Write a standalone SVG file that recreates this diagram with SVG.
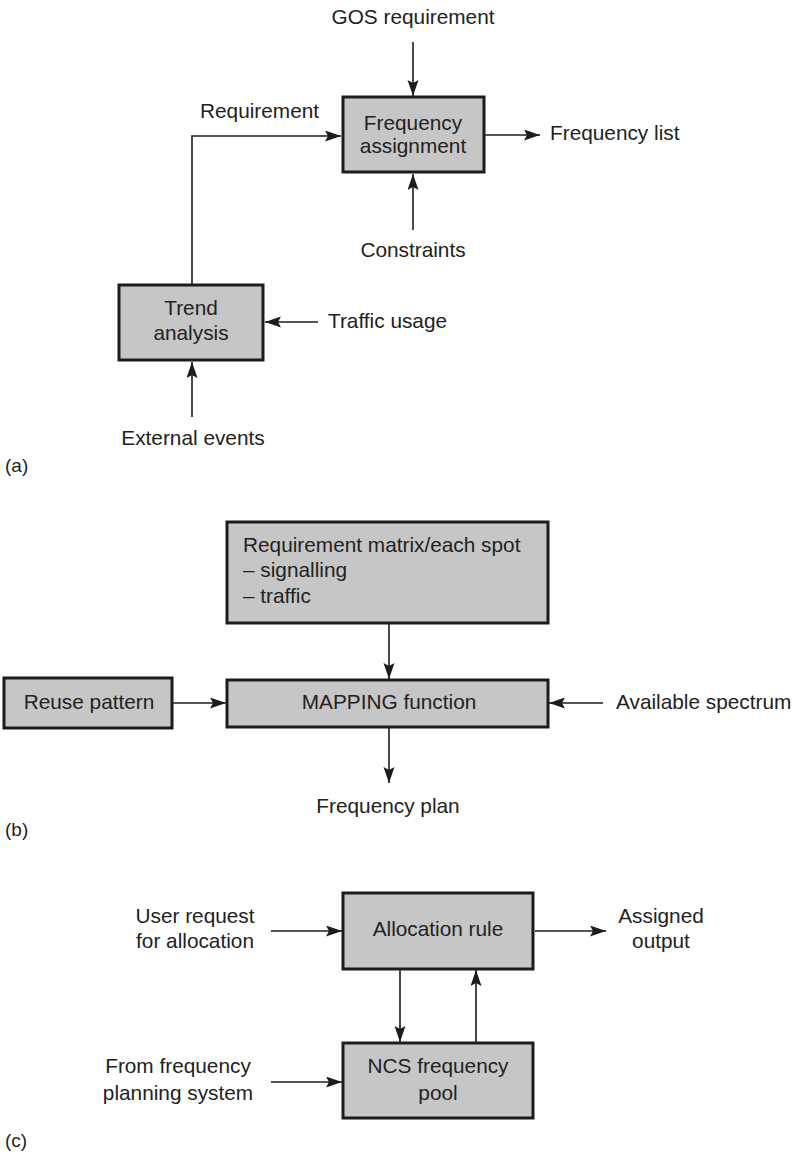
<svg xmlns="http://www.w3.org/2000/svg" width="797" height="1153" viewBox="0 0 797 1153">
<style>
.box{fill:#c6c6c6;stroke:#1c1c1c;stroke-width:3}
.t{font-family:"Liberation Sans",Arial,sans-serif;font-size:20.8px;fill:#222}
.m{text-anchor:middle}
.lbl{font-family:"Liberation Sans",Arial,sans-serif;font-size:19px;fill:#222}
.c{fill:none;stroke:#1c1c1c;stroke-width:1.6}
</style>
<defs>
<marker id="ah" markerUnits="userSpaceOnUse" markerWidth="18" markerHeight="12" refX="16" refY="5.5" orient="auto">
<path d="M0,0 L16,5.5 L0,11 L3,5.5 z" fill="#1c1c1c"/>
</marker>
</defs>
<rect width="797" height="1153" fill="#ffffff"/>

<g id="connectors">
<line class="c" x1="413" y1="42" x2="413" y2="96" marker-end="url(#ah)"/>
<polyline class="c" points="192,284 192,136 341,136" marker-end="url(#ah)"/>
<line class="c" x1="485" y1="135" x2="540" y2="135" marker-end="url(#ah)"/>
<line class="c" x1="413" y1="230" x2="413" y2="174" marker-end="url(#ah)"/>
<line class="c" x1="318" y1="322" x2="265" y2="322" marker-end="url(#ah)"/>
<line class="c" x1="192" y1="417" x2="192" y2="362" marker-end="url(#ah)"/>
<line class="c" x1="389" y1="624" x2="389" y2="679" marker-end="url(#ah)"/>
<line class="c" x1="173" y1="703" x2="226" y2="703" marker-end="url(#ah)"/>
<line class="c" x1="603" y1="703" x2="549" y2="703" marker-end="url(#ah)"/>
<line class="c" x1="389" y1="728" x2="389" y2="783" marker-end="url(#ah)"/>
<line class="c" x1="271" y1="931" x2="342" y2="931" marker-end="url(#ah)"/>
<line class="c" x1="535" y1="931" x2="606" y2="931" marker-end="url(#ah)"/>
<line class="c" x1="400" y1="970" x2="400" y2="1042" marker-end="url(#ah)"/>
<line class="c" x1="476" y1="1043" x2="476" y2="970" marker-end="url(#ah)"/>
<line class="c" x1="271" y1="1082" x2="342" y2="1082" marker-end="url(#ah)"/>
</g>

<g id="freq-assignment">
<rect class="box" x="343" y="97" width="141" height="75"/>
<text class="t m" x="413" y="130">Frequency</text>
<text class="t m" x="413" y="153">assignment</text>
</g>
<g id="trend-analysis">
<rect class="box" x="119" y="285" width="144" height="75"/>
<text class="t m" x="191" y="315">Trend</text>
<text class="t m" x="191" y="340">analysis</text>
</g>
<g id="labels-a">
<text class="t m" x="413" y="24">GOS requirement</text>
<text class="t" x="200" y="118">Requirement</text>
<text class="t" x="550" y="140">Frequency list</text>
<text class="t m" x="413" y="257">Constraints</text>
<text class="t" x="328" y="328">Traffic usage</text>
<text class="t m" x="193" y="445">External events</text>
<text class="lbl" x="5" y="472">(a)</text>
</g>

<g id="req-matrix">
<rect class="box" x="227" y="522" width="321" height="101"/>
<text class="t" x="243" y="552">Requirement matrix/each spot</text>
<text class="t" x="243" y="577">– signalling</text>
<text class="t" x="243" y="603">– traffic</text>
</g>
<g id="mapping">
<rect class="box" x="227" y="680" width="321" height="47"/>
<text class="t m" x="389" y="709">MAPPING function</text>
</g>
<g id="reuse-pattern">
<rect class="box" x="4" y="678" width="168" height="50"/>
<text class="t m" x="89" y="709">Reuse pattern</text>
</g>
<g id="labels-b">
<text class="t" x="616" y="709">Available spectrum</text>
<text class="t m" x="388" y="813">Frequency plan</text>
<text class="lbl" x="5" y="836">(b)</text>
</g>

<g id="allocation-rule">
<rect class="box" x="343" y="893" width="190" height="76"/>
<text class="t m" x="438" y="936">Allocation rule</text>
</g>
<g id="ncs-pool">
<rect class="box" x="343" y="1043" width="190" height="75"/>
<text class="t m" x="438" y="1073">NCS frequency</text>
<text class="t m" x="438" y="1100">pool</text>
</g>
<g id="labels-c">
<text class="t m" x="195" y="923">User request</text>
<text class="t m" x="195" y="948">for allocation</text>
<text class="t m" x="661" y="923">Assigned</text>
<text class="t m" x="661" y="948">output</text>
<text class="t m" x="178" y="1073">From frequency</text>
<text class="t m" x="178" y="1100">planning system</text>
<text class="lbl" x="5" y="1147">(c)</text>
</g>
</svg>
